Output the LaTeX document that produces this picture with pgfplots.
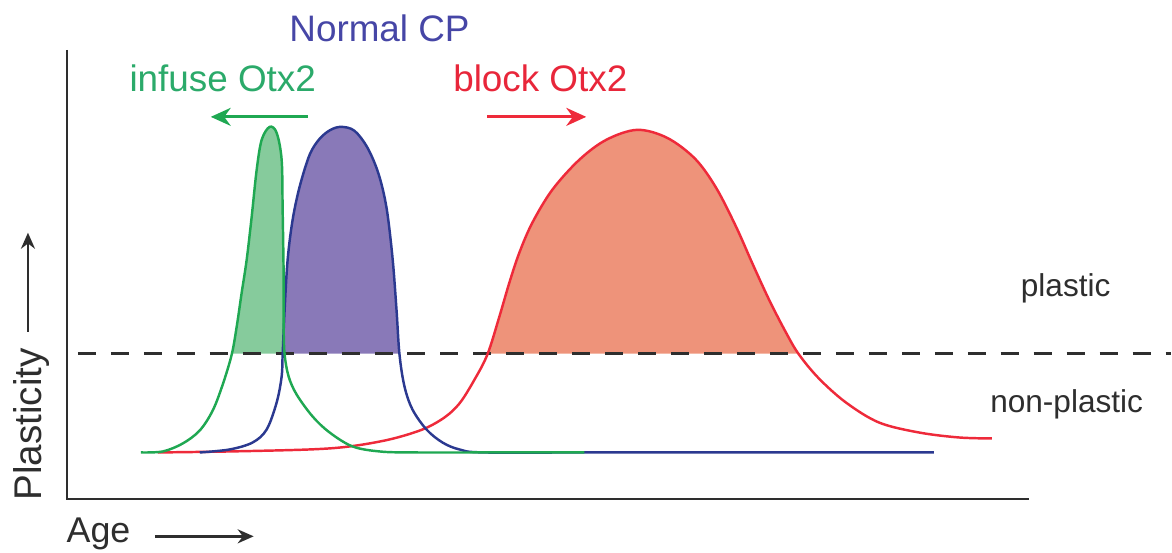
\documentclass[border=0pt]{standalone}
\usepackage{fontspec}
\setmainfont{Liberation Sans}
\usepackage{pgfplots}
\pgfplotsset{compat=1.18}
\usetikzlibrary{arrows.meta}
\definecolor{gline}{HTML}{1FA852}
\definecolor{gfill}{HTML}{86CB9C}
\definecolor{bline}{HTML}{2B3990}
\definecolor{bfill}{HTML}{8979B8}
\definecolor{rline}{HTML}{EE2A3A}
\definecolor{rfill}{HTML}{EE937A}
\definecolor{gtext}{HTML}{2BAA6A}
\definecolor{btext}{HTML}{4646A6}
\definecolor{rtext}{HTML}{E8263A}
\definecolor{ink}{HTML}{2E2E2E}
\begin{document}
\begin{tikzpicture}
\begin{axis}[width=11.72cm, height=5.53cm, scale only axis,
  xmin=0, xmax=1172, ymin=0, ymax=553, y dir=reverse,
  hide axis, clip=false]
\path (axis cs:0,0) rectangle (axis cs:1172,553);
% fills (portion above the threshold)
\addplot[draw=none, fill=gfill, smooth, tension=0.55] coordinates {
(232,354)(237,327)(242,293)(247,260)(252,217)(257,170)(262,140)(270,127)(277,133)(282,160)(283,210)(284,277)(284,327)(285,354)} -- cycle;
\addplot[draw=none, fill=bfill, smooth, tension=0.55] coordinates {
(283,354)(285,310)(288,260)(293,220)(300,187)(310,155)(320,139)(331,130)(342,127)(355,131)(368,148)(379,174)(387,208)(393,258)(397,310)(400,354)} -- cycle;
\addplot[draw=none, fill=rfill, smooth, tension=0.55] coordinates {
(488,354)(500,317)(510,283)(520,253)(533,223)(553,190)(580,160)(607,140)(638,130)(668,138)(696,159)(717,188)(737,227)(753,263)(770,300)(787,333)(800,354)} -- cycle;
% threshold
\addplot[ink, line width=0.85pt, dash pattern=on 1.8mm off 1.5mm] coordinates {(78,354)(1172,354)};
% axes
\addplot[ink, line width=0.6pt] coordinates {(67,50)(67,500)(1030,500)};
% curves
\addplot[rline, line width=0.7pt, smooth, tension=0.55] coordinates {
(158,453)(230,452)(310,450)(350,447)(390,440)(423,430)(445,418)(460,404)(474,382)(488,355)(500,317)(510,283)(520,253)(533,223)(553,190)(580,160)(607,140)(638,130)(668,138)(696,159)(717,188)(737,227)(753,263)(770,300)(787,333)(800,355)(820,379)(847,403)(880,423)(920,433)(960,438)(993,439)};
\addplot[bline, line width=0.7pt, smooth, tension=0.55] coordinates {
(200,453)(230,450)(253,443)(267,430)(277,403)(282,377)(283,355)(285,310)(288,260)(293,220)(300,187)(310,155)(320,139)(331,130)(342,127)(355,131)(368,148)(379,174)(387,208)(393,258)(397,310)(400,355)(405,387)(413,410)(427,430)(443,443)(460,450)(485,453)(600,453)(935,453)};
\addplot[gline, line width=0.7pt, smooth, tension=0.55] coordinates {
(141,453)(163,452)(183,444)(200,431)(213,411)(223,385)(232,355)(237,327)(242,293)(247,260)(252,217)(257,170)(262,140)(270,127)(277,133)(282,160)(283,210)(284,277)(284,327)(285,355)(289,377)(297,395)(313,417)(330,433)(353,447)(380,452)(413,453)(500,453)(585,453)};
% labels
\node[btext, font=\fontsize{10.5}{12}\selectfont, anchor=base] at (axis cs:380,42) {Normal CP};
\node[gtext, font=\fontsize{10.5}{12}\selectfont, anchor=base] at (axis cs:223,92) {infuse Otx2};
\node[rtext, font=\fontsize{10.5}{12}\selectfont, anchor=base] at (axis cs:541,92) {block Otx2};
\draw[gline, line width=0.8pt, -{Stealth[length=2mm,width=1.8mm]}] (axis cs:308,117) -- (axis cs:211,117);
\draw[rline, line width=0.8pt, -{Stealth[length=2mm,width=1.8mm]}] (axis cs:488,117) -- (axis cs:587,117);
\node[ink, font=\fontsize{9}{11}\selectfont, anchor=base] at (axis cs:1067,297) {plastic};
\node[ink, font=\fontsize{9}{11}\selectfont, anchor=base] at (axis cs:1068,413) {non-plastic};
\node[ink, font=\fontsize{11}{12}\selectfont, rotate=90, anchor=base west, inner sep=0pt] at (axis cs:42,502) {Plasticity};
\draw[ink, line width=0.7pt, -{Stealth[length=1.6mm,width=1.4mm]}] (axis cs:28,332) -- (axis cs:28,233);
\node[ink, font=\fontsize{10.2}{12}\selectfont, anchor=base west, inner sep=0pt] at (axis cs:66,543) {Age};
\draw[ink, line width=0.7pt, -{Stealth[length=1.6mm,width=1.4mm]}] (axis cs:155,537) -- (axis cs:254,537);
\end{axis}
\end{tikzpicture}
\end{document}
